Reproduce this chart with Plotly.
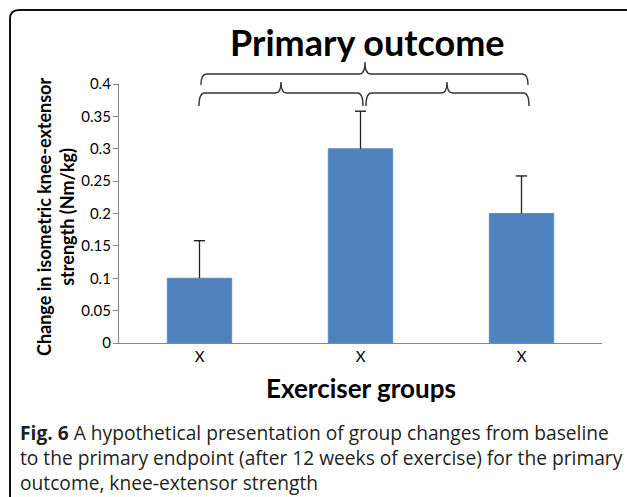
import plotly.graph_objects as go

# ---- data ----
group_labels = ["X", "X", "X"]
group_pos = [0, 1, 2]
mean_change = [0.1, 0.3, 0.2]
error_upper = [0.058, 0.058, 0.058]
y_ticks = [0, 0.05, 0.1, 0.15, 0.2, 0.25, 0.3, 0.35, 0.4]

# ---- layout geometry (pixels) ----
W, H = 627, 497
L, R, T, B = 119, 602, 84, 343
PW, PH = R - L, B - T


def px(x):
    return (x - L) / PW


def py(y):
    return (B - y) / PH


def dx(xp):
    return (xp - L) / (PW / 3) - 0.5


BAR = "#4F81BD"
AX = "#868686"
FONT = "Lato"
ERR = "#222222"

fig = go.Figure()
fig.add_trace(go.Bar(
    x=group_pos, y=mean_change,
    marker=dict(color=BAR, line=dict(color="#5B8CC8", width=1)),
    width=0.4,
))
# error bars: stem from bar top up to mean + error, with a cap on top only
err_top = [m + e for m, e in zip(mean_change, error_upper)]
fig.add_trace(go.Scatter(
    x=group_pos, y=err_top, mode="markers",
    marker=dict(symbol="line-ew", size=8, line=dict(color=ERR, width=1.4), color=ERR),
    error_y=dict(type="data", symmetric=False, array=[0, 0, 0], arrayminus=error_upper,
                 color=ERR, thickness=1.3, width=0),
    hoverinfo="skip",
))


def brace(x0, x1, xt, yl, ye, yt):
    r = 0.035
    p = (f"M {x0},{py(ye)} Q {x0},{py(yl)} {x0 + r},{py(yl)} "
         f"L {xt - r},{py(yl)} Q {xt},{py(yl)} {xt},{py(yt)} "
         f"Q {xt},{py(yl)} {xt + r},{py(yl)} "
         f"L {x1 - r},{py(yl)} Q {x1},{py(yl)} {x1},{py(ye)}")
    return dict(type="path", xref="x", yref="paper", path=p,
                line=dict(color="#333333", width=1.4), layer="above")


shapes = [
    brace(dx(201), dx(528), dx(365), 74, 85, 62),
    brace(dx(199), dx(363), dx(281), 93, 106, 82),
    brace(dx(366), dx(529), dx(447), 93, 106, 82),
]

# frame (rounded top-left corner)
fx0, fy0, rr = 10, 10, 9
frame = (f"M {px(fx0)},{py(W)} L {px(fx0)},{py(fy0 + rr)} "
         f"Q {px(fx0)},{py(fy0)} {px(fx0 + rr)},{py(fy0)} L {px(627)},{py(fy0)}")
shapes.append(dict(type="path", xref="paper", yref="paper", path=frame,
                   line=dict(color="#111111", width=2)))

caption = [
    "<b>Fig. 6</b> A hypothetical presentation of group changes from baseline",
    "to the primary endpoint (after 12 weeks of exercise) for the primary",
    "outcome, knee-extensor strength",
]

annotations = [
    dict(text="<b>Primary outcome</b>", x=px(367), y=py(42), xref="paper", yref="paper",
         showarrow=False, font=dict(family=FONT, size=36, color="#000000"),
         xanchor="center", yanchor="middle"),
    dict(text="<b>Change in isometric knee-extensor<br>strength (Nm/kg)</b>",
         x=px(55), y=py(217), xref="paper", yref="paper", textangle=-90,
         showarrow=False, font=dict(family=FONT, size=18, color="#000000"),
         xanchor="center", yanchor="middle"),
    dict(text="<b>Exerciser groups</b>", x=px(361), y=py(388), xref="paper", yref="paper",
         showarrow=False, font=dict(family=FONT, size=26, color="#000000"),
         xanchor="center", yanchor="middle"),
    dict(text="<br>".join(caption), x=px(19), y=py(417.5), xref="paper", yref="paper",
         showarrow=False, xanchor="left", yanchor="top", align="left", borderpad=0,
         font=dict(family="Open Sans", size=19.2, color="#231F20")),
]

fig.update_layout(
    width=W, height=H,
    margin=dict(l=L, r=W - R, t=T, b=H - B, pad=0),
    paper_bgcolor="white", plot_bgcolor="white",
    showlegend=False,
    shapes=shapes,
    annotations=annotations,
    xaxis=dict(range=[-0.5, 2.5], tickvals=group_pos, ticktext=group_labels,
               showline=True, linecolor=AX, linewidth=1.3, ticks="", showgrid=False,
               zeroline=False, tickfont=dict(family=FONT, size=15, color="#000000")),
    yaxis=dict(range=[0, 0.4], tickvals=y_ticks, showline=True, linecolor=AX, linewidth=1.3,
               ticks="outside", ticklen=5, tickcolor=AX, showgrid=False, zeroline=False,
               ticklabelstandoff=-1,
               tickfont=dict(family=FONT, size=15, color="#000000")),
)

fig.write_html("out.html", config={"displayModeBar": False},
               post_script="document.body.style.margin='0';"
               "document.body.style.overflow='hidden';")
